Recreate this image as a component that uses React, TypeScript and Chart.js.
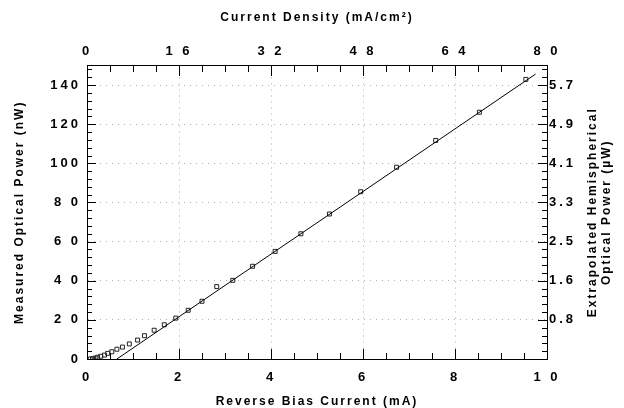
import React, { useEffect, useRef } from "react";
import { Chart, registerables } from "chart.js";

Chart.register(...registerables);

// Measured data: reverse bias current (mA) vs measured optical power (nW)
const currentMA = [0.07, 0.12, 0.18, 0.23, 0.3, 0.38, 0.45, 0.54, 0.65, 0.77, 0.92, 1.1, 1.25, 1.46, 1.68, 1.93, 2.2, 2.5, 2.82, 3.17, 3.6, 4.09, 4.65, 5.27, 5.95, 6.73, 7.58, 8.53, 9.54];
const powerNW = [0.0, 0.2, 0.5, 0.9, 1.4, 2.0, 2.9, 3.7, 5.0, 6.1, 7.7, 9.7, 11.9, 14.7, 17.5, 20.9, 24.9, 29.5, 37.0, 40.2, 47.4, 55.0, 64.0, 74.1, 85.5, 98.0, 111.7, 126.1, 142.9];

// Straight-line fit drawn through the data
const fitCurrentMA = [0.65, 9.75];
const fitPowerNW = [0, 145.6];

// Tick labels
const bottomTickValues = [0, 2, 4, 6, 8, 10];
const bottomTickLabels = ["0", "2", "4", "6", "8", "1 0"];
const topTickValues = [0, 16, 32, 48, 64, 80];
const topTickLabels = ["0", "1 6", "3 2", "4 8", "6 4", "8 0"];
const leftTickValues = [0, 20, 40, 60, 80, 100, 120, 140];
const leftTickLabels = ["0", "2 0", "4 0", "6 0", "8 0", "100", "120", "140"];
const rightTickValues = [20, 40, 60, 80, 100, 120, 140];
const rightTickLabels = ["0.8", "1.6", "2.5", "3.3", "4.1", "4.9", "5.7"];

// Minor/major tick mark steps for each axis
const bottomMinorStep = 0.5;
const bottomMajorStep = 2;
const topMinorStep = 4;
const topMajorStep = 16;
const sideMinorStep = 4;
const sideMajorStep = 20;

const FONT = '"Liberation Sans", Arial, Helvetica, sans-serif';
const GRID = "rgba(110,110,110,0.55)";
const TICK_COLOR = "#000000";

const tickPlugin = {
  id: "inwardTicks",
  beforeDraw(chart: any) {
    (chart.ctx as any).letterSpacing = "2px";
    Object.values(chart.scales).forEach((s: any) => {
      if (!s.__lsWrapped) {
        const orig = s.drawLabels;
        s.drawLabels = function (...args: any[]) {
          const c = this.ctx as any;
          const prev = c.letterSpacing;
          c.letterSpacing = "3px";
          orig.apply(this, args);
          c.letterSpacing = prev;
        };
        s.__lsWrapped = true;
      }
    });
  },
  afterDraw(chart: any) {
    const ctx = chart.ctx as CanvasRenderingContext2D;
    const a = chart.chartArea;
    const sx = chart.scales.x;
    const sx2 = chart.scales.x2;
    const sy = chart.scales.y;
    const L = Math.round(a.left);
    const R = Math.round(a.right);
    const T = Math.round(a.top);
    const B = Math.round(a.bottom);
    ctx.save();
    ctx.fillStyle = TICK_COLOR;
    const near = (v: number, step: number) => Math.abs(v / step - Math.round(v / step)) < 1e-6;
    for (let v = bottomMinorStep; v < 10 - 1e-6; v += bottomMinorStep) {
      const px = Math.round(sx.getPixelForValue(v));
      const len = near(v, bottomMajorStep) ? 10 : 6;
      ctx.fillRect(px, B - len, 1, len);
    }
    for (let v = topMinorStep; v < 80 - 1e-6; v += topMinorStep) {
      const px = Math.round(sx2.getPixelForValue(v));
      const len = near(v, topMajorStep) ? 10 : 6;
      ctx.fillRect(px, T, 1, len);
    }
    for (let v = sideMinorStep; v < 150; v += sideMinorStep) {
      const py = Math.round(sy.getPixelForValue(v));
      const len = near(v, sideMajorStep) ? 9 : 5;
      ctx.fillRect(L, py, len, 1);
      ctx.fillRect(R - len, py, len, 1);
    }
    // right axis title (two lines, reading bottom to top)
    ctx.fillStyle = "#000";
    ctx.font = `bold 12px ${FONT}`;
    ctx.textAlign = "center";
    ctx.textBaseline = "middle";
    (ctx as any).letterSpacing = "2px";
    const cy = (a.top + a.bottom) / 2;
    const lines = ["Extrapolated Hemispherical", "Optical Power (\u00B5W)"];
    const xs = [593, 607];
    lines.forEach((t, i) => {
      ctx.save();
      ctx.translate(xs[i], cy);
      ctx.rotate(-Math.PI / 2);
      ctx.fillText(t, 0, 0);
      ctx.restore();
    });
    ctx.restore();
  },
};

export default function App() {
  const ref = useRef<HTMLCanvasElement | null>(null);
  useEffect(() => {
    if (!ref.current) return;
    const tickFont = { family: FONT, size: 13, weight: "bold" as const };
    const titleFont = { family: FONT, size: 12, weight: "bold" as const, lineHeight: 1 };
    const chart = new Chart(ref.current, {
      type: "scatter",
      data: {
        datasets: [
          {
            label: "fit",
            data: fitCurrentMA.map((x, i) => ({ x, y: fitPowerNW[i] })),
            showLine: true,
            borderColor: "#000",
            borderWidth: 1,
            pointRadius: 0,
            xAxisID: "x",
            yAxisID: "y",
          },
          {
            label: "measured",
            data: currentMA.map((x, i) => ({ x, y: powerNW[i] })),
            showLine: false,
            pointStyle: "rect",
            pointRadius: 2.8,
            borderColor: "#222",
            borderWidth: 1,
            backgroundColor: "rgba(255,255,255,0)",
            xAxisID: "x",
            yAxisID: "y",
          },
        ],
      },
      options: {
        animation: false,
        responsive: false,
        devicePixelRatio: 1,
        layout: { padding: 0 },
        plugins: { legend: { display: false }, tooltip: { enabled: false }, title: { display: false } },
        scales: {
          x: {
            type: "linear",
            position: "bottom",
            min: 0,
            max: 10,
            afterFit: (s: any) => { s.height = 49; },
            afterBuildTicks: (s: any) => { s.ticks = bottomTickValues.map((v) => ({ value: v })); },
            ticks: {
              autoSkip: false,
              maxRotation: 0,
              padding: 11,
              color: "#000",
              font: tickFont,
              callback: (_v: any, i: number) => bottomTickLabels[i],
            },
            grid: {
              drawTicks: false,
              color: (c: any) => (c.tick && (c.tick.value === 0 || c.tick.value === 10) ? "rgba(0,0,0,0)" : GRID),
              lineWidth: 1,
            },
            border: { display: true, color: "#000", width: 1, dash: [1, 5] as any },
            title: {
              display: true,
              text: "Reverse Bias Current (mA)",
              color: "#000",
              font: titleFont,
              padding: { top: 0, bottom: 0 },
            },
          },
          x2: {
            type: "linear",
            position: "top",
            min: 0,
            max: 80,
            afterFit: (s: any) => { s.height = 65.5; },
            afterBuildTicks: (s: any) => { s.ticks = topTickValues.map((v) => ({ value: v })); },
            ticks: {
              autoSkip: false,
              maxRotation: 0,
              padding: 6,
              color: "#000",
              font: tickFont,
              callback: (_v: any, i: number) => topTickLabels[i],
            },
            grid: { drawTicks: false, drawOnChartArea: false },
            border: { display: true, color: "#000", width: 1 },
            title: {
              display: true,
              text: "Current Density (mA/cm\u00B2)",
              color: "#000",
              font: titleFont,
              padding: { top: 11.5, bottom: 0 },
            },
          },
          y: {
            type: "linear",
            position: "left",
            min: 0,
            max: 150,
            afterFit: (s: any) => { s.width = 87; },
            afterBuildTicks: (s: any) => { s.ticks = leftTickValues.map((v) => ({ value: v })); },
            ticks: {
              autoSkip: false,
              padding: 6,
              color: "#000",
              font: tickFont,
              callback: (_v: any, i: number) => leftTickLabels[i],
            },
            grid: {
              drawTicks: false,
              color: (c: any) => (c.tick && c.tick.value === 0 ? "rgba(0,0,0,0)" : GRID),
              lineWidth: 1,
            },
            border: { display: true, color: "#000", width: 1, dash: [1, 5] as any },
            title: {
              display: true,
              text: "Measured Optical Power (nW)",
              color: "#000",
              font: titleFont,
              padding: { top: 14, bottom: 0 },
            },
          },
          y2: {
            type: "linear",
            position: "right",
            min: 0,
            max: 150,
            afterFit: (s: any) => { s.width = 77; },
            afterBuildTicks: (s: any) => { s.ticks = rightTickValues.map((v) => ({ value: v })); },
            ticks: {
              autoSkip: false,
              padding: 2,
              color: "#000",
              font: tickFont,
              callback: (_v: any, i: number) => rightTickLabels[i],
            },
            grid: { drawTicks: false, drawOnChartArea: false },
            border: { display: true, color: "#000", width: 1 },
          },
        },
      } as any,
      plugins: [tickPlugin],
    });
    return () => chart.destroy();
  }, []);
  return (
    <div style={{ position: "fixed", left: 0, top: 0, width: 624, height: 408, background: "#fff" }}>
      <canvas ref={ref} width={624} height={408} style={{ display: "block" }} />
    </div>
  );
}
